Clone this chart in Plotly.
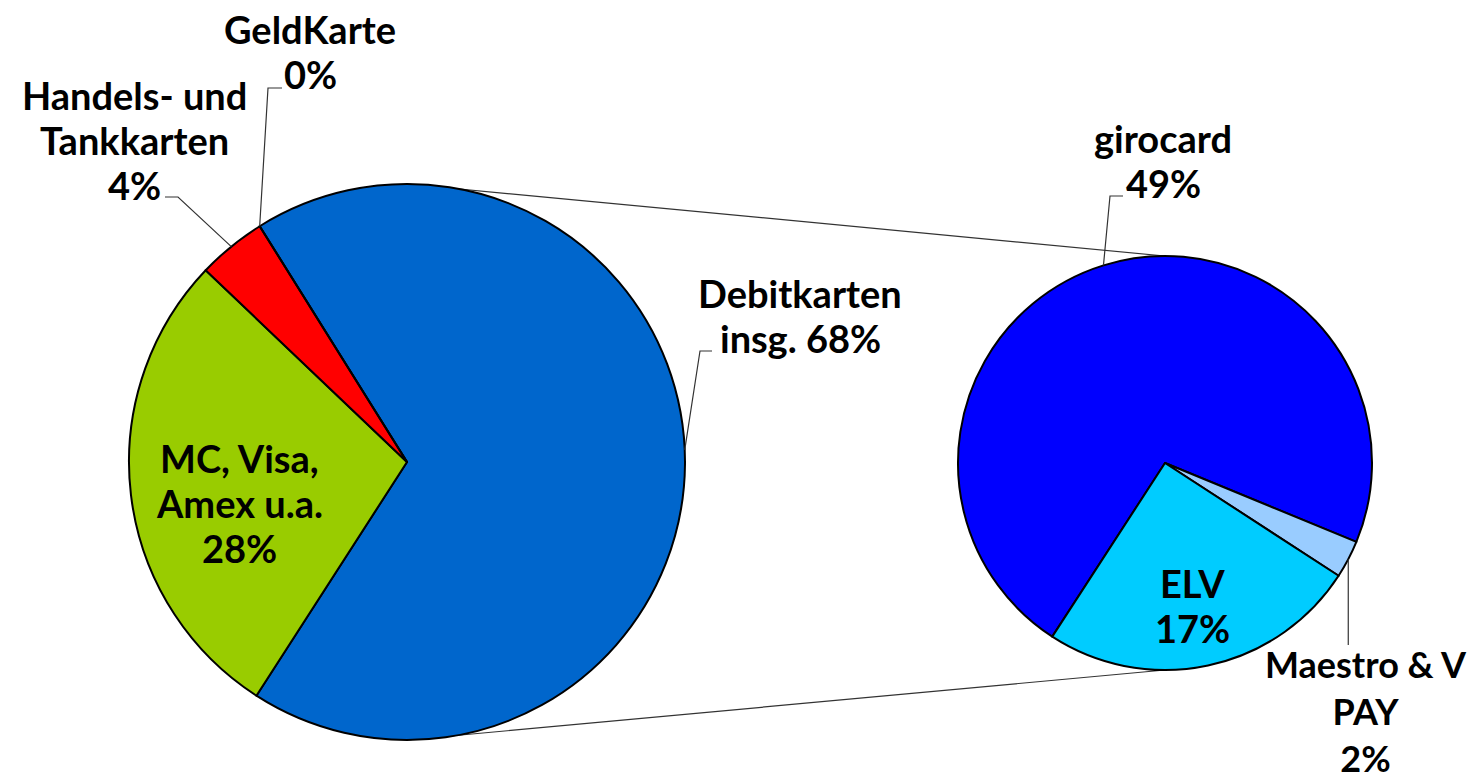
import math
import plotly.graph_objects as go

# Kartenzahlungen nach Kartenart (Anteile in %)
main_labels = ["Debitkarten", "MC, Visa, Amex u.a.", "Handels- und Tankkarten", "GeldKarte"]
main_values = [68, 28, 4, 0]
main_colors = ["#0066CC", "#99CC00", "#FF0000", "#FFFF00"]

# Aufteilung der Debitkarten
debit_labels = ["girocard", "Maestro & V PAY", "ELV"]
debit_values = [49, 2, 17]
debit_colors = ["#0000FF", "#99CCFF", "#00CCFF"]

W, H = 1475, 783
FONT = "Lato"
FSIZE = 38
LINE_H = 45

# pie geometry in pixels (centre x, centre y, radius)
LEFT = (407, 462, 278)
RIGHT = (1165, 463, 207)
LEFT_ROT = -32
RIGHT_ROT = 213


def px(x):
    return x / W


def py(y):
    return 1 - y / H


def domain(c):
    cx, cy, r = c
    return dict(x=[px(cx - r), px(cx + r)], y=[py(cy + r), py(cy - r)])


def mid_angle(values, i, rot):
    total = sum(values)
    start = sum(values[:i]) / total * 360
    return rot + start + values[i] / total * 180


def edge(c, ang):
    cx, cy, r = c
    a = math.radians(ang)
    return cx + r * math.sin(a), cy - r * math.cos(a)


fig = go.Figure()

fig.add_trace(go.Pie(
    labels=main_labels, values=main_values, sort=False,
    direction="clockwise", rotation=LEFT_ROT,
    marker=dict(colors=main_colors, line=dict(color="black", width=2)),
    textinfo="none", hoverinfo="label+percent",
    domain=domain(LEFT),
))

fig.add_trace(go.Pie(
    labels=debit_labels, values=debit_values, sort=False,
    direction="clockwise", rotation=RIGHT_ROT,
    marker=dict(colors=debit_colors, line=dict(color="black", width=2)),
    textinfo="none", hoverinfo="label+value",
    domain=domain(RIGHT),
))

shapes = []

# connector lines between the two pies
for sign in (-1, 1):
    shapes.append(dict(
        type="line", xref="paper", yref="paper", layer="below",
        x0=px(LEFT[0]), y0=py(LEFT[1] + sign * LEFT[2]),
        x1=px(RIGHT[0]), y1=py(RIGHT[1] + sign * RIGHT[2]),
        line=dict(color="#333333", width=1.2),
    ))


def leader(points):
    path = "M " + " L ".join(f"{px(x)},{py(y)}" for x, y in points)
    shapes.append(dict(type="path", xref="paper", yref="paper", path=path,
                       line=dict(color="#333333", width=1.2)))


annotations = []


def label(lines, x, y, step=LINE_H):
    for k, t in enumerate(lines):
        annotations.append(dict(
            text=f"<b>{t}</b>", x=px(x), y=py(y + k * step),
            xref="paper", yref="paper", xanchor="center", yanchor="middle",
            showarrow=False, font=dict(family=FONT, size=FSIZE, color="black"),
        ))


def pct(v):
    return f"{v}%"


# GeldKarte
p = edge(LEFT, mid_angle(main_values, 3, LEFT_ROT))
leader([p, (268, 88), (282, 88)])
label(["GeldKarte", pct(main_values[3])], 310, 29)

# Handels- und Tankkarten
p = edge(LEFT, mid_angle(main_values, 2, LEFT_ROT))
leader([p, (178, 197), (165, 197)])
label(["Handels- und", "Tankkarten", pct(main_values[2])], 134, 95)

# MC, Visa (inside)
label(["MC, Visa,", "Amex u.a.", pct(main_values[1])], 240, 458)

# Debitkarten
p = edge(LEFT, 87.5)
leader([p, (700, 351), (712, 351)])
label(["Debitkarten", f"insg. {pct(main_values[0])}"], 800, 293)

# girocard
p = edge(RIGHT, mid_angle(debit_values, 0, RIGHT_ROT))
leader([p, (1110, 196), (1123, 196)])
label(["girocard", pct(debit_values[0])], 1163, 138)

# ELV (inside)
label(["ELV", pct(debit_values[2])], 1192, 583)

# Maestro & V PAY: one block sitting on the bottom edge
p = edge(RIGHT, mid_angle(debit_values, 1, RIGHT_ROT))
leader([p, (p[0], 645)])
annotations.append(dict(
    text=f"<b>Maestro & V<br>PAY<br>{pct(debit_values[1])}</b>",
    x=px(1366), y=py(782), xref="paper", yref="paper",
    xanchor="center", yanchor="bottom", showarrow=False,
    font=dict(family=FONT, size=36, color="black"),
))

fig.update_layout(
    width=W, height=H,
    margin=dict(l=0, r=0, t=0, b=0),
    paper_bgcolor="white", plot_bgcolor="white",
    showlegend=False,
    shapes=shapes,
    annotations=annotations,
)

fig.write_html("out.html", config={"displayModeBar": False},
               post_script="document.body.style.margin='0';")
